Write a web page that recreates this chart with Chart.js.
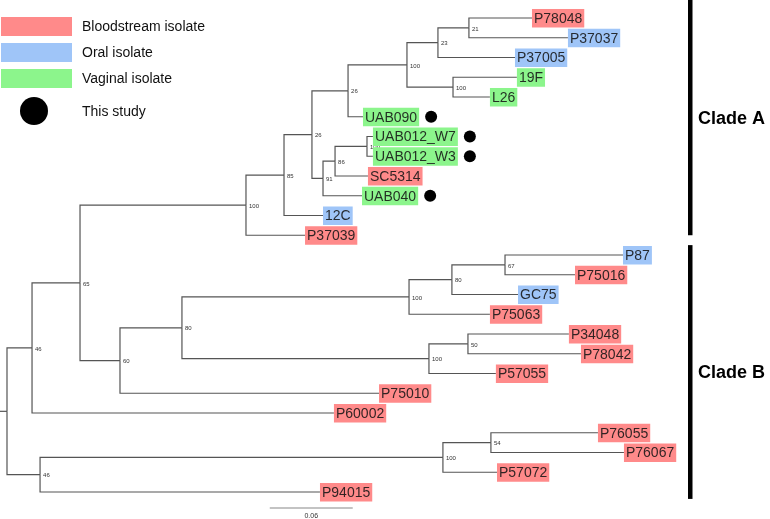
<!DOCTYPE html>
<html>
<head>
<meta charset="utf-8">
<script src="https://cdn.jsdelivr.net/npm/chart.js@4"></script>
<style>
  body { margin: 0; background: #fff; }
  #tree { display: block; }
</style>
</head>
<body>
<canvas id="tree" width="770" height="519"></canvas>
<script>
// leaves, top to bottom
var leafNames = ['P78048', 'P37037', 'P37005', '19F', 'L26', 'UAB090', 'UAB012_W7', 'UAB012_W3', 'SC5314', 'UAB040', '12C', 'P37039',
    'P87', 'P75016', 'GC75', 'P75063', 'P34048', 'P78042', 'P57055', 'P75010', 'P60002', 'P76055', 'P76067', 'P57072', 'P94015'];
// distance from root (substitutions / site)
var leafDepth = [0.3796, 0.4056, 0.3673, 0.3687, 0.3492, 0.2574, 0.2646, 0.2646, 0.2610, 0.2567, 0.2285, 0.2155,
    0.4454, 0.4107, 0.3695, 0.3492, 0.4063, 0.4150, 0.3535, 0.2690, 0.2364, 0.4273, 0.4461, 0.3543, 0.2263];
// B = bloodstream, O = oral, V = vaginal
var leafSource = ['B', 'O', 'O', 'V', 'V', 'V', 'V', 'V', 'B', 'V', 'O', 'B',
    'O', 'B', 'O', 'B', 'B', 'B', 'B', 'B', 'B', 'B', 'B', 'B', 'B'];
var thisStudy = ['UAB090', 'UAB012_W7', 'UAB012_W3', 'UAB040'];

// internal nodes n0..n23
var nodeDepth = [0, 0.0181, 0.0239, 0.0528, 0.3152, 0.1728, 0.0817, 0.3499, 0.2003, 0.1265, 0.2205, 0.2907,
    0.3051, 0.2466, 0.2285, 0.3217, 0.3333, 0.2892, 0.2372, 0.3601, 0.3116, 0.3225, 0.2603, 0.3340];
var nodeSupport = [null, 46, 46, 65, 100, 100, 60, 54, 85, 80, 26, 100, 100, 26, 91, 80, 50, 100, 86, 67, 23, 100, 100, 21];
var nodeChildren = [
    ['n1', 'n2'], ['n3', 'P60002'], ['n4', 'P94015'], ['n5', 'n6'], ['n7', 'P57072'], ['n8', 'P37039'],
    ['n9', 'P75010'], ['P76055', 'P76067'], ['n10', '12C'], ['n11', 'n12'], ['n13', 'n14'], ['n15', 'P75063'],
    ['n16', 'P57055'], ['n17', 'UAB090'], ['n18', 'UAB040'], ['n19', 'GC75'], ['P34048', 'P78042'], ['n20', 'n21'],
    ['n22', 'SC5314'], ['P87', 'P75016'], ['n23', 'P37005'], ['19F', 'L26'], ['UAB012_W7', 'UAB012_W3'], ['P78048', 'P37037']
];

var scaleBar = [0.19, 0.06];
// clade name, bar start row, bar end row
var clades = [['Clade A', -0.92, 11.0], ['Clade B', 11.5, 24.35]];
var legendItems = [['Bloodstream isolate', 'B'], ['Oral isolate', 'O'], ['Vaginal isolate', 'V']];

var boxColors = { B: '#ff8a8a', O: '#9fc5f8', V: '#8cf58c' };
var branchColor = '#555';

// node positions
function pos(id) {
    if (/^n\d+$/.test(id)) {
        var k = Number(id.slice(1));
        var a = pos(nodeChildren[k][0]), b = pos(nodeChildren[k][1]);
        return { x: nodeDepth[k], y: (a.y + b.y) / 2 };
    }
    var i = leafNames.indexOf(id);
    return { x: leafDepth[i], y: i };
}

let datasets = [];
for (let k in nodeChildren) {
    let p = pos('n' + k);
    for (let c of nodeChildren[k]) {
        let q = pos(c);
        datasets.push({
            data: [{ x: p.x, y: p.y }, { x: p.x, y: q.y }, { x: q.x, y: q.y }],
            showLine: true, borderColor: branchColor, borderWidth: 1.2, pointRadius: 0, tension: 0
        });
    }
}
let root = pos('n0');
datasets.push({
    data: [{ x: -0.006, y: root.y }, { x: root.x, y: root.y }],
    showLine: true, borderColor: branchColor, borderWidth: 1.2, pointRadius: 0
});

const treeDecor = {
    id: 'treeDecor',
    afterDatasetsDraw(chart) {
        const ctx = chart.ctx;
        const xs = chart.scales.x, ys = chart.scales.y;
        ctx.save();
        // bootstrap values
        ctx.font = '6px "Liberation Sans", Arial, sans-serif';
        ctx.fillStyle = '#333';
        ctx.textBaseline = 'middle';
        for (let k in nodeSupport) {
            if (nodeSupport[k] == null) continue;
            let p = pos('n' + k);
            ctx.fillText(String(nodeSupport[k]), xs.getPixelForValue(p.x) + 3, ys.getPixelForValue(p.y) + 1);
        }
        // leaf labels
        ctx.font = '14px "Liberation Sans", Arial, sans-serif';
        for (let i in leafNames) {
            let px = xs.getPixelForValue(leafDepth[i]);
            let py = ys.getPixelForValue(Number(i));
            let w = ctx.measureText(leafNames[i]).width + 4;
            ctx.fillStyle = boxColors[leafSource[i]];
            ctx.fillRect(px, py - 9, w, 18.5);
            ctx.fillStyle = 'rgba(20,20,20,0.88)';
            ctx.fillText(leafNames[i], px + 2, py + 1);
            if (thisStudy.indexOf(leafNames[i]) >= 0) {
                ctx.fillStyle = '#000';
                ctx.beginPath();
                ctx.arc(px + w + 12, py, 6, 0, Math.PI * 2);
                ctx.fill();
            }
        }
        // scale bar
        let s0 = xs.getPixelForValue(scaleBar[0]), s1 = xs.getPixelForValue(scaleBar[0] + scaleBar[1]);
        ctx.strokeStyle = '#888';
        ctx.lineWidth = 1.2;
        ctx.beginPath();
        ctx.moveTo(s0, 508);
        ctx.lineTo(s1, 508);
        ctx.stroke();
        ctx.fillStyle = '#333';
        ctx.font = '7px "Liberation Sans", Arial, sans-serif';
        ctx.textAlign = 'center';
        ctx.fillText(String(scaleBar[1]), (s0 + s1) / 2, 516);
        // clade bars
        ctx.textAlign = 'left';
        ctx.font = 'bold 18px "Liberation Sans", Arial, sans-serif';
        for (let c of clades) {
            let y0 = ys.getPixelForValue(c[1]), y1 = ys.getPixelForValue(c[2]);
            ctx.fillStyle = '#000';
            ctx.fillRect(688, y0, 4.5, y1 - y0);
            ctx.fillText(c[0], 698, (y0 + y1) / 2 + 1);
        }
        // legend
        ctx.font = '14px "Liberation Sans", Arial, sans-serif';
        for (let j in legendItems) {
            let ly = 17 + j * 26;
            ctx.fillStyle = boxColors[legendItems[j][1]];
            ctx.fillRect(1, ly, 71, 19);
            ctx.fillStyle = '#111';
            ctx.fillText(legendItems[j][0], 82, ly + 10);
        }
        ctx.fillStyle = '#000';
        ctx.beginPath();
        ctx.arc(34, 111, 14, 0, Math.PI * 2);
        ctx.fill();
        ctx.fillStyle = '#111';
        ctx.fillText('This study', 82, 112);
        ctx.restore();
    }
};

new Chart(document.getElementById('tree'), {
    type: 'scatter',
    data: { datasets: datasets },
    options: {
        responsive: false,
        animation: false,
        devicePixelRatio: 1,
        layout: { padding: 0 },
        plugins: { legend: { display: false }, tooltip: { enabled: false } },
        scales: {
            x: { display: false, min: -0.00506, max: 0.5517 },
            y: { display: false, reverse: true, min: -0.911, max: 25.367 }
        }
    },
    plugins: [treeDecor]
});
</script>
</body>
</html>
